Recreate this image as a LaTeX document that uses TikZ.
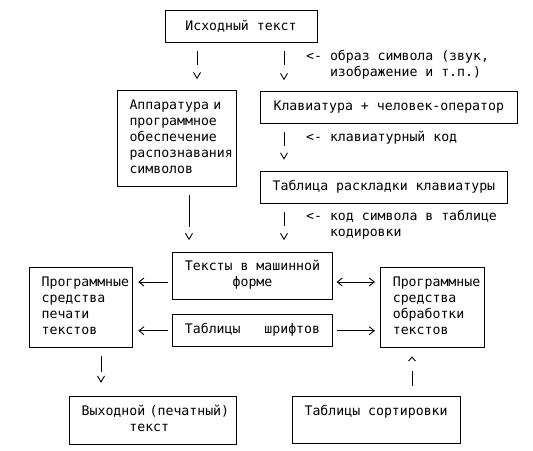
\documentclass[tikz,border=0pt]{standalone}
\usepackage{fontspec}
\newfontfamily\asciifont{DejaVu Sans Mono}
\usetikzlibrary{arrows.meta,calc}
\tikzset{
    mono/.style={
        font=\asciifont\fontsize{13.2}{16}\selectfont,
        execute at begin node=\strut,
        execute at end node=\strut
    },
    blok/.style={
        mono,
        rectangle,
        draw=black,
        line width=0.9pt,
        inner xsep=2.5pt,
        inner ysep=8pt,
        align=center
    },
    lblok/.style={
        blok,
        align=left,
        text width=#1,
        execute at begin node={\leftskip=10pt}
    },
    note/.style={
        mono,
        inner sep=0pt,
        anchor=north west,
        align=left
    },
    vstub/.style={
        line width=0.9pt,
        shorten <=8pt,
        shorten >=11pt,
        dash pattern=on 14pt off 200pt,
        -{Straight Barb[length=6pt,width=7pt]}
    },
    hstub/.style={
        line width=0.9pt,
        shorten <=4pt,
        shorten >=5pt
    }
}

\begin{document}
\begin{tikzpicture}[x=1pt, y=-1pt, >={Straight Barb[length=5pt,width=8pt]}]
    \useasboundingbox (0,0) rectangle (533,450);

    % Колонки и строки для стрелок
    \coordinate (c1) at (197,0);
    \coordinate (c2) at (284,0);
    \coordinate (c3) at (189,0);
    \coordinate (c4) at (101,0);
    \coordinate (c5) at (412,0);
    \coordinate (r1) at (0,282);

    % Блоки
    \node[blok, minimum width=152pt] (src) at (241,26.8) {Исходный текст};
    \node[lblok=114.6pt] (app) at (176.8,138.7) {Аппаратура и\\программное\\обеспечение\\распознавания\\символов};
    \node[blok, minimum width=257.6pt] (klav) at (388.8,107.7) {Клавиатура + человек-оператор};
    \node[blok, minimum width=247.8pt] (layout) at (383.9,187.1) {Таблица раскладки клавиатуры};
    \node[blok, minimum width=159.3pt] (texts) at (252.5,276.2) {Тексты в машинной\\форме};
    \node[lblok=98.7pt] (progl) at (81,307.5) {Программные\\средства\\печати\\текстов};
    \node[lblok=98.7pt] (progr) at (432.2,307.5) {Программные\\средства\\обработки\\текстов};
    \node[blok, minimum width=159.3pt] (fonts) at (252.5,330.7) {Таблицы\ \ \ шрифтов};
    \node[lblok=162.4pt] (out) at (152.9,420.3) {Выходной (печатный)\\\phantom{Выходн}текст};
    \node[blok, minimum width=167.8pt] (sort) at (376.1,420.3) {Таблицы сортировки\\\mbox{}};

    % Пояснения к стрелкам
    \node[note] (n1) at (306,50) {<- образ символа (звук,\\\phantom{<-\ }изображение и т.п.)};
    \node[note] (n2) at (306,130) {<- клавиатурный код};
    \node[note] (n3) at (306,210) {<- код символа в таблице\\\phantom{<-\ }кодировки};

    % Стрелки вниз
    \draw[vstub] (src.south -| c1) -- (app.north -| c1);
    \draw[vstub] (src.south -| c2) -- (klav.north -| c2);
    \draw[vstub] (klav.south -| c2) -- (layout.north -| c2);
    \draw[vstub, shorten >=12pt] (layout.south -| c2) -- (texts.north -| c2);
    \draw[vstub, shorten >=12pt, dash pattern=on 32pt off 200pt] (app.south -| c3) -- (texts.north -| c3);
    \draw[vstub, shorten >=13pt, dash pattern=on 16pt off 200pt] (progl.south -| c4) -- (out.north -| c4);

    % Стрелка вверх
    \draw[vstub, shorten <=10pt, shorten >=8.5pt, dash pattern=on 15pt off 200pt,
          -{Straight Barb[length=4pt,width=7pt]}] (sort.north -| c5) -- (progr.south -| c5);

    % Горизонтальные стрелки
    \draw[hstub, ->] (texts.west |- r1) -- (progl.east |- r1);
    \draw[hstub, <->] (texts.east |- r1) -- (progr.west |- r1);
    \draw[hstub, ->] (fonts.west) -- (progl.east |- fonts.west);
    \draw[hstub, ->] (fonts.east) -- (progr.west |- fonts.east);

\end{tikzpicture}
\end{document}
